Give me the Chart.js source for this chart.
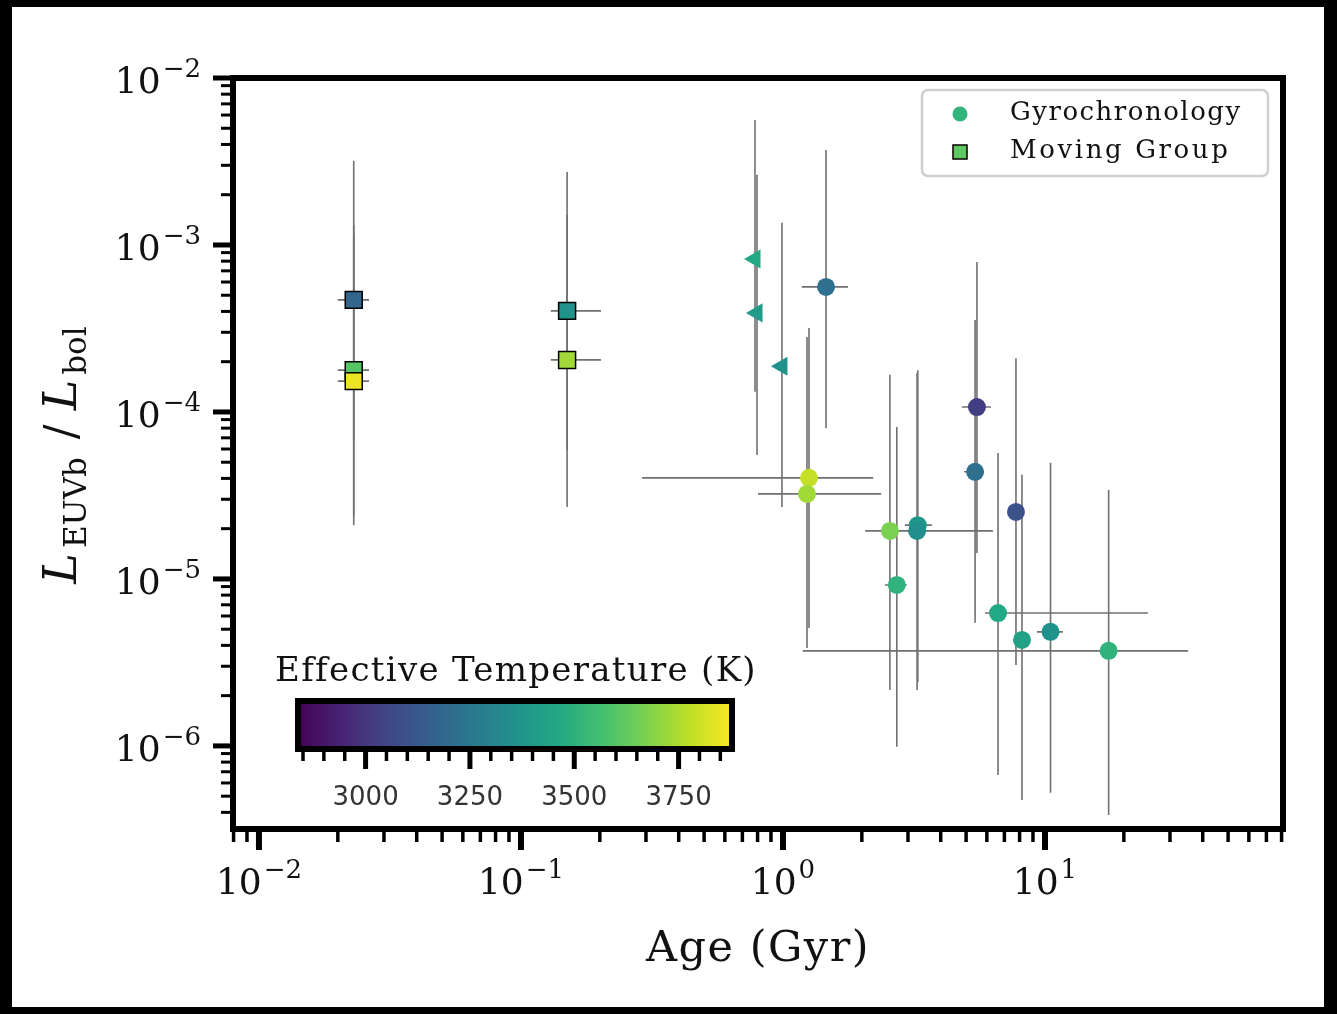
<!DOCTYPE html>
<html>
<head>
<meta charset="utf-8">
<script src="https://cdn.jsdelivr.net/npm/chart.js@4.4.1/dist/chart.umd.min.js"></script>
<style>
  html, body { margin: 0; padding: 0; background: #000; }
  canvas { display: block; }
</style>
</head>
<body>
<canvas id="c" width="1337" height="1014"></canvas>
<script>
// ---- axis ranges ----
const ageMin = 0.00796, ageMax = 81;      // Gyr
const lumMin = 3.18e-7, lumMax = 1e-2;    // L_EUVb / L_bol
const teffMin = 2838, teffMax = 3878;     // K, colour scale

// ---- tick labels ----
const xMajorTicks = [0.01, 0.1, 1, 10];
const yMajorTicks = [1e-6, 1e-5, 1e-4, 1e-3, 1e-2];
const cbarTicks = [3000, 3250, 3500, 3750];

// ---- moving-group members (squares) ----
const mgAge   = [0.023, 0.023, 0.023, 0.150, 0.150];
const mgAgeLo = [0.0200, 0.0200, 0.0200, 0.130, 0.130];
const mgAgeHi = [0.0263, 0.0263, 0.0263, 0.202, 0.202];
const mgLum   = [4.69e-4, 1.78e-4, 1.53e-4, 4.03e-4, 2.05e-4];
const mgLumLo = [6.8e-5, 2.4e-5, 2.1e-5, 5.9e-5, 2.7e-5];
const mgLumHi = [3.2e-3, 1.32e-3, 1.13e-3, 2.74e-3, 1.51e-3];
const mgTeff  = [3180, 3600, 3850, 3360, 3730];

// ---- gyrochronology ages (circles) ----
const gyAge   = [1.46, 1.257, 1.235, 2.56, 2.72, 3.27, 3.25, 5.50, 5.41, 7.75, 6.62, 8.17, 10.5, 17.5];
const gyAgeLo = [1.18, 0.290, 0.803, null, 2.45, 2.92, 2.06, 4.82, 4.91, 7.40, 5.90, null, 9.32, 1.19];
const gyAgeHi = [1.77, 2.21, 2.37, null, 2.97, 3.70, 6.33, 6.22, 5.85, 8.10, 24.7, null, 11.7, 35.2];
const gyLum   = [5.61e-4, 4.03e-5, 3.23e-5, 1.94e-5, 9.2e-6, 2.10e-5, 1.94e-5, 1.07e-4, 4.38e-5, 2.52e-5, 6.25e-6, 4.31e-6, 4.82e-6, 3.71e-6];
const gyLumLo = [8.0e-5, 5.09e-6, 3.86e-6, 2.16e-6, 9.9e-7, 2.41e-6, 2.16e-6, 1.43e-5, 5.46e-6, 3.05e-6, 6.70e-7, 4.75e-7, 5.24e-7, 3.86e-7];
const gyLumHi = [3.71e-3, 3.18e-4, 2.81e-4, 1.67e-4, 8.13e-5, 1.78e-4, 1.71e-4, 7.91e-4, 3.56e-4, 2.10e-4, 5.68e-5, 4.20e-5, 4.96e-5, 3.41e-5];
const gyTeff  = [3220, 3785, 3730, 3670, 3505, 3380, 3355, 3025, 3220, 3100, 3460, 3430, 3360, 3505];

// ---- age upper limits (left-pointing triangles) ----
const ulAge   = [0.782, 0.796, 0.991];
const ulLum   = [8.24e-4, 3.92e-4, 1.88e-4];
const ulLumLo = [1.32e-4, 5.53e-5, 2.70e-5];
const ulLumHi = [5.61e-3, 2.63e-3, 1.36e-3];
const ulTeff  = [3460, 3400, 3360];

// ---- viridis colour map ----
const viridisStops = ['#440154', '#482475', '#414487', '#355f8d', '#2a788e', '#21918c',
                      '#22a884', '#44bf70', '#7ad151', '#bddf26', '#fde725'];
function hexRgb(h) { return [1, 3, 5].map(i => parseInt(h.slice(i, i + 2), 16)); }
function viridis(t) {
  t = Math.max(0, Math.min(1, t));
  const s = t * (viridisStops.length - 1);
  const i = Math.min(viridisStops.length - 2, Math.floor(s));
  const f = s - i;
  const a = hexRgb(viridisStops[i]), b = hexRgb(viridisStops[i + 1]);
  const c = a.map((v, k) => Math.round(v + (b[k] - v) * f));
  return `rgb(${c[0]},${c[1]},${c[2]})`;
}
const teffColor = T => viridis((T - teffMin) / (teffMax - teffMin));

const SERIF = '"DejaVu Serif", serif';
const SANS = '"DejaVu Sans", sans-serif';

// white page inside the dark border
const framePlugin = {
  id: 'frame',
  beforeDraw(chart) {
    const ctx = chart.ctx;
    ctx.save();
    ctx.fillStyle = '#000';
    ctx.fillRect(0, 0, chart.width, chart.height);
    ctx.fillStyle = '#fff';
    ctx.fillRect(12, 7, 1312, 1000);
    ctx.restore();
  }
};

// asymmetric error bars, drawn under the markers
const errorBarPlugin = {
  id: 'errorBars',
  beforeDatasetsDraw(chart) {
    const { ctx, chartArea: ca } = chart;
    const xs = chart.scales.x, ys = chart.scales.y;
    ctx.save();
    ctx.beginPath();
    ctx.rect(ca.left, ca.top, ca.right - ca.left, ca.bottom - ca.top);
    ctx.clip();
    ctx.strokeStyle = '#707070';
    ctx.lineWidth = 1.6;
    const groups = [
      [mgAge, mgAgeLo, mgAgeHi, mgLum, mgLumLo, mgLumHi],
      [gyAge, gyAgeLo, gyAgeHi, gyLum, gyLumLo, gyLumHi],
      [ulAge, null, null, ulLum, ulLumLo, ulLumHi]
    ];
    groups.forEach(([age, aLo, aHi, lum, lLo, lHi]) => {
      age.forEach((a, i) => {
        const px = xs.getPixelForValue(a), py = ys.getPixelForValue(lum[i]);
        ctx.beginPath();
        if (lLo && lLo[i] != null) {
          ctx.moveTo(px, ys.getPixelForValue(lLo[i]));
          ctx.lineTo(px, ys.getPixelForValue(lHi[i]));
        }
        if (aLo && aLo[i] != null) {
          ctx.moveTo(xs.getPixelForValue(aLo[i]), py);
          ctx.lineTo(xs.getPixelForValue(aHi[i]), py);
        }
        ctx.stroke();
      });
    });
    ctx.restore();
  }
};

function powLabel(ctx, exp, x, baseY, align) {
  ctx.font = '36px ' + SERIF;
  const wb = ctx.measureText('10').width;
  const es = exp < 0 ? '\u2212' + (-exp) : String(exp);
  ctx.font = '26px ' + SERIF;
  const we = ctx.measureText(es).width;
  const gap = 2, total = wb + gap + we;
  const x0 = align === 'right' ? x - total : x - total / 2;
  ctx.textAlign = 'left';
  ctx.textBaseline = 'alphabetic';
  ctx.font = '36px ' + SERIF;
  ctx.fillText('10', x0, baseY);
  ctx.font = '26px ' + SERIF;
  ctx.fillText(es, x0 + wb + gap, baseY - 16);
}

// frame, ticks, labels, colour bar and legend
const axesPlugin = {
  id: 'axesDecor',
  afterDraw(chart) {
    const { ctx, chartArea: ca } = chart;
    const xs = chart.scales.x, ys = chart.scales.y;
    ctx.save();
    ctx.fillStyle = '#111';
    ctx.strokeStyle = '#000';

    // ticks on the bottom axis
    for (let d = -3; d <= 2; d++) {
      for (let m = 1; m <= 9; m++) {
        const v = m * Math.pow(10, d);
        if (v < ageMin || v > ageMax) continue;
        const px = xs.getPixelForValue(v);
        const major = m === 1;
        ctx.lineWidth = major ? 6 : 3.5;
        ctx.beginPath();
        ctx.moveTo(px, ca.bottom);
        ctx.lineTo(px, ca.bottom + (major ? 21 : 13));
        ctx.stroke();
      }
    }
    // ticks on the left axis
    for (let d = -7; d <= -2; d++) {
      for (let m = 1; m <= 9; m++) {
        const v = m * Math.pow(10, d);
        if (v < lumMin || v > lumMax * 1.0001) continue;
        const py = ys.getPixelForValue(v);
        const major = m === 1;
        ctx.lineWidth = major ? 5 : 3;
        ctx.beginPath();
        ctx.moveTo(ca.left, py);
        ctx.lineTo(ca.left - (major ? 20 : 12), py);
        ctx.stroke();
      }
    }
    // frame
    ctx.lineWidth = 6;
    ctx.strokeRect(ca.left, ca.top, ca.right - ca.left, ca.bottom - ca.top);

    // tick labels
    xMajorTicks.forEach(v => powLabel(ctx, Math.round(Math.log10(v)), xs.getPixelForValue(v), 894, 'center'));
    yMajorTicks.forEach(v => powLabel(ctx, Math.round(Math.log10(v)), 201, ys.getPixelForValue(v) + 15, 'right'));

    // x title
    ctx.font = '43px ' + SERIF;
    ctx.letterSpacing = '1.5px';
    ctx.textAlign = 'center';
    ctx.textBaseline = 'alphabetic';
    ctx.fillText('Age (Gyr)', (ca.left + ca.right) / 2, 961);
    ctx.letterSpacing = '0px';

    // y title: L_EUVb / L_bol
    const parts = [
      { t: 'L', f: 'italic 46px ' + SERIF, dy: 0, after: 5 },
      { t: 'EUVb', f: '31px ' + SERIF, dy: 10, after: 8 },
      { t: '/', f: '44px ' + SERIF, dy: 0, after: 14 },
      { t: 'L', f: 'italic 46px ' + SERIF, dy: 0, after: 5 },
      { t: 'bol', f: '31px ' + SERIF, dy: 10, after: 0 }
    ];
    let total = 0;
    parts.forEach(p => { ctx.font = p.f; p.w = ctx.measureText(p.t).width; total += p.w + p.after; });
    parts[2].before = 10; total += 10;
    ctx.save();
    ctx.translate(76, 455);
    ctx.rotate(-Math.PI / 2);
    ctx.textAlign = 'left';
    let cx = -total / 2;
    parts.forEach(p => {
      if (p.before) cx += p.before;
      ctx.font = p.f;
      ctx.fillText(p.t, cx, p.dy);
      cx += p.w + p.after;
    });
    ctx.restore();

    // colour bar
    const cb = { x: 298, y: 701, w: 434, h: 48 };
    const cbX = T => cb.x + (T - teffMin) / (teffMax - teffMin) * cb.w;
    const grad = ctx.createLinearGradient(cb.x, 0, cb.x + cb.w, 0);
    viridisStops.forEach((c, i) => grad.addColorStop(i / (viridisStops.length - 1), c));
    ctx.fillStyle = grad;
    ctx.fillRect(cb.x, cb.y, cb.w, cb.h);
    ctx.strokeStyle = '#000';
    ctx.lineWidth = 6;
    ctx.strokeRect(cb.x, cb.y, cb.w, cb.h);
    const cbBottom = cb.y + cb.h + 3;
    for (let T = 2850; T <= teffMax; T += 50) {
      const major = T % 250 === 0;
      ctx.lineWidth = major ? 5 : 3.5;
      ctx.beginPath();
      ctx.moveTo(cbX(T), cbBottom - 1);
      ctx.lineTo(cbX(T), cbBottom + (major ? 17 : 9));
      ctx.stroke();
    }
    ctx.fillStyle = '#333';
    ctx.font = '26px ' + SANS;
    ctx.textAlign = 'center';
    ctx.textBaseline = 'middle';
    cbarTicks.forEach(T => ctx.fillText(String(T), cbX(T), 798));
    ctx.fillStyle = '#111';
    ctx.font = '34px ' + SERIF;
    ctx.letterSpacing = '1.3px';
    ctx.textBaseline = 'alphabetic';
    ctx.fillText('Effective Temperature (K)', cb.x + cb.w / 2 + 1, 681);
    ctx.letterSpacing = '0px';

    // legend
    const lg = { x: 922, y: 90, w: 346, h: 86, r: 6 };
    ctx.beginPath();
    ctx.roundRect(lg.x, lg.y, lg.w, lg.h, lg.r);
    ctx.fillStyle = 'rgba(255,255,255,0.85)';
    ctx.fill();
    ctx.strokeStyle = '#cfcfcf';
    ctx.lineWidth = 2.5;
    ctx.stroke();
    ctx.beginPath();
    ctx.arc(960, 114, 7.5, 0, Math.PI * 2);
    ctx.fillStyle = teffColor(3515);
    ctx.fill();
    ctx.fillStyle = teffColor(3620);
    ctx.fillRect(953, 145, 14, 14);
    ctx.strokeStyle = '#000';
    ctx.lineWidth = 1.5;
    ctx.strokeRect(953, 145, 14, 14);
    ctx.fillStyle = '#111';
    ctx.font = '26px ' + SERIF;
    ctx.letterSpacing = '1.5px';
    ctx.textAlign = 'left';
    ctx.textBaseline = 'middle';
    ctx.fillText(chart.data.datasets[0].label, 1010, 113);
    ctx.letterSpacing = '2.6px';
    ctx.fillText(chart.data.datasets[2].label, 1010, 151);
    ctx.letterSpacing = '0px';
    ctx.restore();
  }
};

new Chart(document.getElementById('c'), {
  type: 'scatter',
  data: {
    datasets: [
      {
        label: 'Gyrochronology',
        data: gyAge.map((a, i) => ({ x: a, y: gyLum[i] })),
        pointStyle: 'circle',
        pointRadius: 9,
        pointBackgroundColor: gyTeff.map(teffColor),
        pointBorderWidth: 0
      },
      {
        label: 'Age upper limit',
        data: ulAge.map((a, i) => ({ x: a, y: ulLum[i] })),
        pointStyle: 'triangle',
        pointRotation: 270,
        pointRadius: 11,
        pointBackgroundColor: ulTeff.map(teffColor),
        pointBorderWidth: 0
      },
      {
        label: 'Moving Group',
        data: mgAge.map((a, i) => ({ x: a, y: mgLum[i] })),
        pointStyle: 'rect',
        pointRadius: 12,
        pointBackgroundColor: mgTeff.map(teffColor),
        pointBorderColor: '#000',
        pointBorderWidth: 1.5
      }
    ]
  },
  options: {
    responsive: false,
    animation: false,
    devicePixelRatio: 1,
    events: [],
    layout: { padding: { left: 233, right: 54, top: 78, bottom: 185 } },
    scales: {
      x: { type: 'logarithmic', min: ageMin, max: ageMax, display: false },
      y: { type: 'logarithmic', min: lumMin, max: lumMax, display: false }
    },
    plugins: { legend: { display: false }, tooltip: { enabled: false } }
  },
  plugins: [framePlugin, errorBarPlugin, axesPlugin]
});
</script>
</body>
</html>
